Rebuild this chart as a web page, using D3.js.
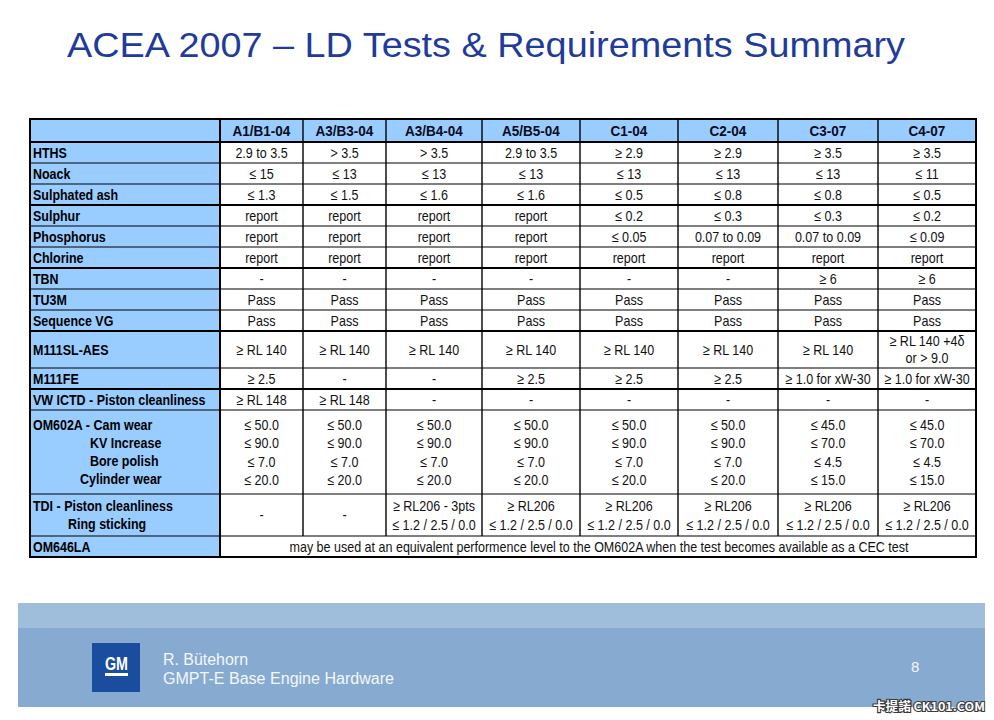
<!DOCTYPE html>
<html>
<head>
<meta charset="utf-8">
<script src="https://cdn.jsdelivr.net/npm/d3@7"></script>
<style>
  html, body { margin: 0; padding: 0; background: #fff; }
  svg { display: block; }
</style>
</head>
<body>
<div id="chart"></div>
<script>
// ---- data ----
const title = "ACEA 2007 \u2013 LD Tests & Requirements Summary";
const categories = ["A1/B1-04", "A3/B3-04", "A3/B4-04", "A5/B5-04", "C1-04", "C2-04", "C3-07", "C4-07"];
const rowLabels = [
  "HTHS", "Noack", "Sulphated ash", "Sulphur", "Phosphorus", "Chlorine", "TBN", "TU3M",
  "Sequence VG", "M111SL-AES", "M111FE", "VW ICTD - Piston cleanliness",
  "OM602A - Cam wear\nKV Increase\nBore polish\nCylinder wear",
  "TDI - Piston cleanliness\nRing sticking", "OM646LA"
];
const hths = ["2.9 to 3.5", "> 3.5", "> 3.5", "2.9 to 3.5", "\u2265 2.9", "\u2265 2.9", "\u2265 3.5", "\u2265 3.5"];
const noack = ["\u2264 15", "\u2264 13", "\u2264 13", "\u2264 13", "\u2264 13", "\u2264 13", "\u2264 13", "\u2264 11"];
const sulphatedAsh = ["\u2264 1.3", "\u2264 1.5", "\u2264 1.6", "\u2264 1.6", "\u2264 0.5", "\u2264 0.8", "\u2264 0.8", "\u2264 0.5"];
const sulphur = ["report", "report", "report", "report", "\u2264 0.2", "\u2264 0.3", "\u2264 0.3", "\u2264 0.2"];
const phosphorus = ["report", "report", "report", "report", "\u2264 0.05", "0.07 to 0.09", "0.07 to 0.09", "\u2264 0.09"];
const chlorine = ["report", "report", "report", "report", "report", "report", "report", "report"];
const tbn = ["-", "-", "-", "-", "-", "-", "\u2265 6", "\u2265 6"];
const tu3m = ["Pass", "Pass", "Pass", "Pass", "Pass", "Pass", "Pass", "Pass"];
const sequenceVG = ["Pass", "Pass", "Pass", "Pass", "Pass", "Pass", "Pass", "Pass"];
const m111sl = ["\u2265 RL 140", "\u2265 RL 140", "\u2265 RL 140", "\u2265 RL 140", "\u2265 RL 140", "\u2265 RL 140", "\u2265 RL 140", "\u2265 RL 140 +4\u03b4\nor > 9.0"];
const m111fe = ["\u2265 2.5", "-", "-", "\u2265 2.5", "\u2265 2.5", "\u2265 2.5", "\u2265 1.0 for xW-30", "\u2265 1.0 for xW-30"];
const vwIctd = ["\u2265 RL 148", "\u2265 RL 148", "-", "-", "-", "-", "-", "-"];
const om602a = [
  "\u2264 50.0\n\u2264 90.0\n\u2264 7.0\n\u2264 20.0", "\u2264 50.0\n\u2264 90.0\n\u2264 7.0\n\u2264 20.0",
  "\u2264 50.0\n\u2264 90.0\n\u2264 7.0\n\u2264 20.0", "\u2264 50.0\n\u2264 90.0\n\u2264 7.0\n\u2264 20.0",
  "\u2264 50.0\n\u2264 90.0\n\u2264 7.0\n\u2264 20.0", "\u2264 50.0\n\u2264 90.0\n\u2264 7.0\n\u2264 20.0",
  "\u2264 45.0\n\u2264 70.0\n\u2264 4.5\n\u2264 15.0", "\u2264 45.0\n\u2264 70.0\n\u2264 4.5\n\u2264 15.0"
];
const tdi = [
  "-", "-", "\u2265 RL206 - 3pts\n\u2264 1.2 / 2.5 / 0.0",
  "\u2265 RL206\n\u2264 1.2 / 2.5 / 0.0", "\u2265 RL206\n\u2264 1.2 / 2.5 / 0.0", "\u2265 RL206\n\u2264 1.2 / 2.5 / 0.0",
  "\u2265 RL206\n\u2264 1.2 / 2.5 / 0.0", "\u2265 RL206\n\u2264 1.2 / 2.5 / 0.0"
];
const om646la = "may be used at an equivalent performence level to the OM602A when the test becomes available as a CEC test";
const rowValues = [hths, noack, sulphatedAsh, sulphur, phosphorus, chlorine, tbn, tu3m,
  sequenceVG, m111sl, m111fe, vwIctd, om602a, tdi, null];
const footerLines = ["R. B\u00fctehorn", "GMPT-E Base Engine Hardware"];
const pageNumber = "8";

// ---- layout ----
const W = 994, H = 720;
const tableLeft = 30, tableTop = 119;
const colWidths = [190, 83, 83, 96, 98, 98, 100, 100, 98];
const headerHeight = 23;
const rowHeights = [21, 21, 21, 21, 21, 21, 21, 21, 21, 37, 21, 21, 84, 42, 21];
const thickAfter = [-1, 2, 5, 8, 10];   // header and rows followed by a heavier rule
const lineGap = 18.3;
const labelIndent = [[3], [3], [3], [3], [3], [3], [3], [3], [3], [3], [3], [3], [3, 60, 60, 50], [3, 38], [3]];
const footerWidths = [85, 231];
const blue = "#99CCFF";
const font = "'Liberation Sans', Arial, sans-serif";

const colKeys = ["label", ...categories];
const colStart = d3.cumsum([0, ...colWidths.slice(0, -1)]).map(v => v + tableLeft);
const x = d3.scaleOrdinal().domain(colKeys).range(colStart);
const w = d3.scaleOrdinal().domain(colKeys).range(colWidths);
const rowStart = d3.cumsum([0, ...rowHeights.slice(0, -1)]).map(v => v + tableTop + headerHeight);
const y = d3.scaleOrdinal().domain(d3.range(rowLabels.length)).range(rowStart);
const h = d3.scaleOrdinal().domain(d3.range(rowLabels.length)).range(rowHeights);
const tableRight = tableLeft + d3.sum(colWidths);
const tableBottom = tableTop + headerHeight + d3.sum(rowHeights);

// squeeze text horizontally (the slide text is narrower than the installed fonts)
function squeeze(sel, k) {
  sel.each(function () {
    const len = this.getComputedTextLength();
    d3.select(this).attr("textLength", len * k).attr("lengthAdjust", "spacingAndGlyphs");
  });
}
function fitTo(sel, width) {
  sel.attr("textLength", width).attr("lengthAdjust", "spacingAndGlyphs");
}

const svg = d3.select("#chart").append("svg").attr("width", W).attr("height", H)
  .style("font-family", font);

// title
svg.append("text")
  .attr("x", 67).attr("y", 57)
  .attr("fill", "#1F3B9C").attr("font-size", 35)
  .text(title)
  .call(fitTo, 838);

// table backgrounds
const tbl = svg.append("g");
tbl.append("rect")
  .attr("x", tableLeft).attr("y", tableTop)
  .attr("width", tableRight - tableLeft).attr("height", tableBottom - tableTop)
  .attr("fill", "#fff");
tbl.append("rect")
  .attr("x", tableLeft).attr("y", tableTop)
  .attr("width", tableRight - tableLeft).attr("height", headerHeight)
  .attr("fill", blue);
tbl.append("rect")
  .attr("x", x("label")).attr("y", tableTop)
  .attr("width", w("label")).attr("height", tableBottom - tableTop)
  .attr("fill", blue);

// header text
tbl.selectAll("text.head").data(categories).enter().append("text")
  .attr("class", "head")
  .attr("x", d => x(d) + w(d) / 2)
  .attr("y", tableTop + headerHeight / 2)
  .attr("dy", "0.36em")
  .attr("text-anchor", "middle")
  .attr("font-size", 15).attr("font-weight", "bold").attr("fill", "#0a0a1a")
  .text(d => d)
  .call(squeeze, 0.9);

// row labels
rowLabels.forEach((label, i) => {
  const lines = label.split("\n");
  const cy = y(i) + h(i) / 2;
  tbl.selectAll(null).data(lines).enter().append("text")
    .attr("x", (d, j) => x("label") + labelIndent[i][j])
    .attr("y", (d, j) => cy + (j - (lines.length - 1) / 2) * lineGap)
    .attr("dy", "0.36em")
    .attr("font-size", 14).attr("font-weight", "bold").attr("fill", "#000")
    .text(d => d)
    .call(squeeze, 0.89);
});

// cell values
rowValues.forEach((vals, i) => {
  const cy = y(i) + h(i) / 2;
  if (!vals) return;
  vals.forEach((v, c) => {
    const key = categories[c];
    const lines = v.split("\n");
    tbl.selectAll(null).data(lines).enter().append("text")
      .attr("x", x(key) + w(key) / 2)
      .attr("y", (d, j) => cy + (j - (lines.length - 1) / 2) * (i === 9 ? 17 : lineGap))
      .attr("dy", "0.36em")
      .attr("text-anchor", "middle")
      .attr("font-size", 15).attr("fill", "#111")
      .text(d => d)
      .call(squeeze, 0.835);
  });
});

// merged OM646LA row
const lastRow = rowLabels.length - 1;
tbl.append("text")
  .attr("x", (x(categories[0]) + tableRight) / 2 + 1)
  .attr("y", y(lastRow) + h(lastRow) / 2)
  .attr("dy", "0.36em")
  .attr("text-anchor", "middle")
  .attr("font-size", 15).attr("fill", "#111")
  .text(om646la)
  .call(fitTo, 619);

// grid lines
const hLines = [{ y: tableTop + headerHeight, i: -1 }].concat(
  rowLabels.slice(0, -1).map((d, i) => ({ y: y(i) + h(i), i })));
tbl.selectAll("line.h").data(hLines).enter().append("line")
  .attr("x1", tableLeft).attr("x2", tableRight)
  .attr("y1", d => d.y).attr("y2", d => d.y)
  .attr("stroke", "#000")
  .attr("stroke-width", d => thickAfter.includes(d.i) ? 2 : 1.2);

tbl.selectAll("line.v").data(categories).enter().append("line")
  .attr("x1", d => x(d)).attr("x2", d => x(d))
  .attr("y1", tableTop)
  .attr("y2", (d, i) => i === 0 ? tableBottom : y(lastRow))
  .attr("stroke", "#000")
  .attr("stroke-width", (d, i) => i === 0 ? 2 : 1.4);

tbl.append("rect")
  .attr("x", tableLeft).attr("y", tableTop)
  .attr("width", tableRight - tableLeft).attr("height", tableBottom - tableTop)
  .attr("fill", "none").attr("stroke", "#000").attr("stroke-width", 2);

// footer
const foot = svg.append("g");
foot.append("rect").attr("x", 18).attr("y", 603).attr("width", 967).attr("height", 25).attr("fill", "#9FBEDC");
foot.append("rect").attr("x", 18).attr("y", 628).attr("width", 967).attr("height", 79).attr("fill", "#87ABD0");

foot.append("rect").attr("x", 92).attr("y", 643).attr("width", 48).attr("height", 49).attr("fill", "#1B4D9F");
foot.append("text")
  .attr("x", 105).attr("y", 670)
  .attr("font-size", 19).attr("font-weight", "bold").attr("fill", "#fff")
  .text("GM")
  .call(fitTo, 23);
foot.append("rect").attr("x", 105).attr("y", 673).attr("width", 23).attr("height", 3).attr("fill", "#fff");

foot.selectAll("text.who").data(footerLines).enter().append("text")
  .attr("class", "who")
  .attr("x", 163)
  .attr("y", (d, i) => 665 + i * 19)
  .attr("font-size", 16).attr("fill", "#F4F7FB")
  .text(d => d)
  .each(function (d, i) { d3.select(this).call(fitTo, footerWidths[i]); });

foot.append("text")
  .attr("x", 911).attr("y", 672)
  .attr("font-size", 15).attr("fill", "#F4F7FB")
  .text(pageNumber);

// watermark
svg.append("text")
  .attr("x", 985).attr("y", 711)
  .attr("text-anchor", "end")
  .attr("font-family", "'Noto Sans CJK TC', 'Noto Sans', sans-serif")
  .attr("font-size", 12).attr("font-weight", "bold")
  .attr("fill", "#fff").attr("stroke", "#3a3a3a").attr("stroke-width", 2.2)
  .attr("paint-order", "stroke")
  .text("\u5361\u63d0\u8afe CK101.COM")
  .call(fitTo, 112);
</script>
</body>
</html>
